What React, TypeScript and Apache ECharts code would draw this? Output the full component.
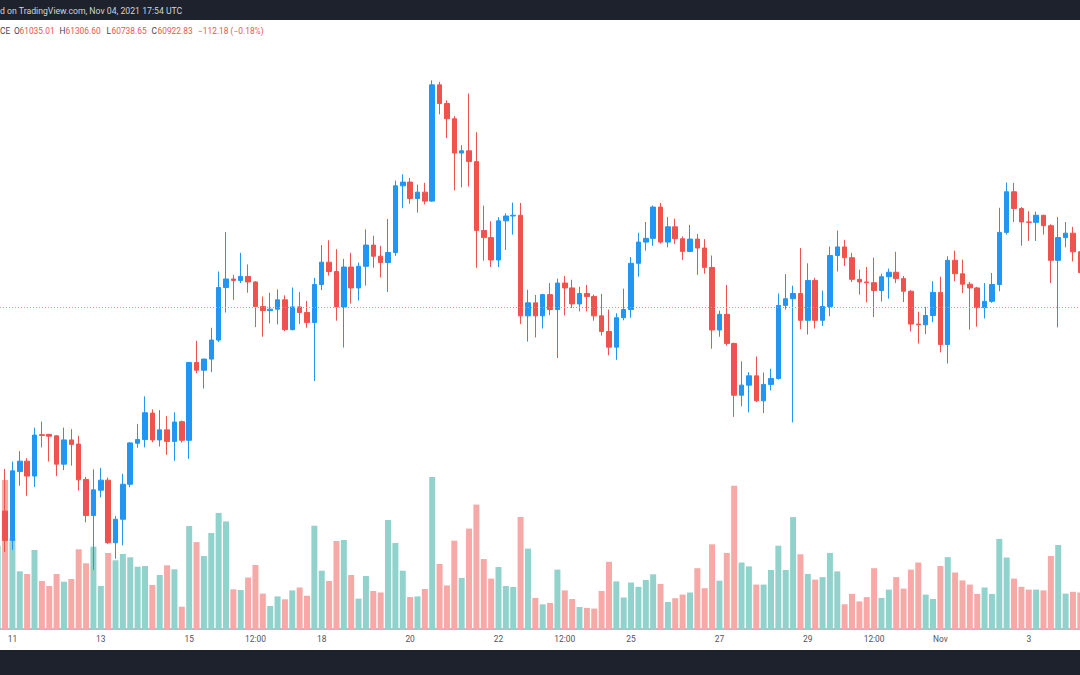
import React, { useEffect, useRef } from "react";
import * as echarts from "echarts";

// 4h candles, BTC/USDT, starting 2021-10-10 16:00 UTC
const START_UTC = Date.UTC(2021, 9, 10, 16, 0);
const STEP_H = 4;

const opens = [
  54990, 55440, 54650, 56500, 56780, 56380, 57490, 57500, 57460, 56700, 57350, 57240, 56290, 55320, 56000, 56270,
  54590, 55220, 56160, 57260, 57360, 58070, 57350, 57620, 57310, 57840, 57340, 59430, 59220, 59520, 60030, 61440,
  61670, 61630, 61740, 61590, 60930, 60820, 60860, 61110, 60310, 60920, 60770, 60500, 61520, 62120, 61870, 60920,
  61990, 61430, 62010, 62580, 62280, 62110, 62380, 64170, 64270, 63830, 64000, 63760, 66880, 66380, 65970, 65050,
  65110, 64820, 62970, 62780, 62180, 63230, 63360, 63380, 60680, 61030, 60680, 61250, 60850, 61560, 61430, 61000,
  61280, 61200, 60680, 60260, 59840, 60630, 60850, 62090, 62660, 62760, 63600, 62660, 63070, 62750, 62410, 62740,
  62500, 61980, 60300, 60720, 59940, 58550, 58820, 59070, 58400, 58840, 59000, 60960, 61140, 61280, 60560, 61630,
  60560, 60930, 62300, 62530, 62240, 61660, 61590, 61570, 61360, 61730, 61850, 61680, 61340, 60460, 60440, 60690,
  61310, 59910, 62170, 61810, 61530, 61430, 60900, 61070, 61520, 62920, 64010, 63560, 63200, 63190, 63380, 63100,
  62170, 62780, 62900, 62400,
];

const closes = [
  55440, 54650, 56520, 56780, 56380, 57480, 57470, 57450, 56700, 57350, 57230, 56280, 55320, 56010, 56270, 54590,
  55220, 56160, 57270, 57360, 58080, 57350, 57620, 57310, 57830, 57340, 59430, 59220, 59520, 60030, 61440, 61670,
  61630, 61740, 61590, 60930, 60820, 60860, 61110, 60310, 60920, 60770, 60500, 61520, 62120, 61870, 60920, 61990,
  61430, 62010, 62580, 62280, 62110, 62380, 64170, 64270, 63830, 64000, 63760, 66880, 66380, 65970, 65050, 65110,
  64820, 62970, 62780, 62180, 63230, 63360, 63380, 60680, 61030, 60680, 61250, 60850, 61560, 61430, 61000, 61280,
  61200, 60680, 60260, 59840, 60630, 60850, 62090, 62660, 62760, 63600, 62660, 63070, 62750, 62410, 62740, 62500,
  61980, 60300, 60720, 59940, 58550, 58820, 59070, 58400, 58840, 59000, 60960, 61140, 61280, 60560, 61630, 60560,
  60930, 62300, 62530, 62240, 61660, 61590, 61570, 61360, 61730, 61850, 61680, 61340, 60460, 60440, 60690, 61310,
  59910, 62170, 61810, 61530, 61430, 60900, 61070, 61520, 62920, 64010, 63560, 63200, 63190, 63380, 63100, 62170,
  62780, 62900, 62400, 61840,
];

const lows = [
  54880, 54340, 54400, 56120, 55850, 56090, 57150, 56770, 56380, 56540, 56660, 55990, 55140, 53860, 55810, 54560,
  54160, 54520, 56080, 57140, 57150, 57290, 57170, 56950, 56790, 57280, 56840, 59140, 58730, 59170, 59980, 60770,
  61110, 61560, 61300, 60380, 60120, 60480, 60450, 60270, 60290, 60460, 60360, 58930, 61370, 61760, 60550, 59830,
  61010, 61090, 61490, 61970, 61710, 61320, 62290, 63570, 63690, 63450, 63670, 63740, 66090, 65450, 64050, 64130,
  64150, 61970, 62160, 61990, 61990, 62450, 62860, 60460, 59990, 60100, 60340, 60700, 59550, 60690, 60890, 60800,
  60800, 60550, 60150, 59620, 59500, 60560, 60630, 61730, 62430, 62560, 62620, 62520, 62610, 62180, 62390, 61780,
  61810, 59800, 60120, 59880, 57970, 58250, 58090, 58370, 58070, 58680, 58970, 60850, 57820, 60320, 60180, 60340,
  60410, 60670, 61870, 62020, 61590, 61250, 61040, 60650, 61060, 61140, 61560, 61050, 60260, 59940, 60190, 60510,
  59700, 59400, 61610, 61290, 60310, 60390, 60610, 61030, 61340, 62860, 63200, 62560, 62690, 62690, 62860, 61560,
  60370, 62520, 62140, 61750,
];

const highs = [
  55580, 56570, 56770, 57050, 56860, 57680, 57840, 57510, 57470, 57680, 57640, 57460, 56360, 56560, 56600, 56340,
  55310, 56440, 57290, 57780, 58520, 58170, 58150, 57990, 58090, 57870, 59440, 60010, 59530, 60360, 61870, 62930,
  61780, 62370, 62060, 61610, 61200, 61300, 61390, 61230, 61440, 61320, 61080, 61700, 62580, 62710, 62470, 62210,
  62370, 62110, 63000, 62830, 62560, 63280, 64310, 64480, 64380, 64200, 64250, 67000, 66960, 66460, 66040, 65260,
  66650, 65610, 63640, 63220, 63330, 63430, 63720, 63710, 61380, 61240, 61270, 61560, 61680, 61750, 61650, 61460,
  61510, 61250, 61270, 60850, 60750, 61410, 62260, 62910, 63200, 63640, 63710, 63330, 63290, 62810, 63120, 62880,
  62740, 62300, 60820, 61510, 59960, 59460, 59170, 59590, 59160, 59260, 61280, 61800, 61490, 62500, 62090, 61700,
  61360, 62540, 62970, 62720, 62370, 61920, 61990, 62240, 61810, 61950, 62400, 61750, 61370, 60790, 60920, 61610,
  61730, 62280, 62430, 62190, 61590, 61460, 61560, 61830, 63580, 64260, 64250, 63600, 63490, 63480, 63390, 63140,
  63330, 63200, 63070, 62450,
];

const volumes = [
  8330, 14900, 9100, 5770, 5500, 7900, 4800, 4300, 5500, 4730, 5000, 7970, 6570, 8230, 4300, 7600,
  6870, 7500, 7170, 6230, 6300, 4400, 5400, 6370, 5970, 2230, 10300, 8690, 7300, 9600, 11610, 10760,
  3970, 3900, 5150, 6400, 3540, 2300, 3260, 2970, 3860, 4150, 3330, 10330, 5830, 4800, 8800, 8900,
  5400, 3040, 5300, 3800, 3650, 10900, 8610, 5830, 3200, 3260, 4000, 15190, 6500, 4360, 8830, 5110,
  10040, 12440, 7000, 5040, 6200, 4300, 4200, 11200, 8040, 3110, 2470, 2610, 5940, 3860, 3000, 2200,
  2110, 2040, 3800, 6720, 4760, 3150, 4650, 4220, 4900, 5470, 4510, 2700, 3080, 3440, 3650, 6080,
  4080, 8470, 4830, 7610, 14330, 6650, 6260, 4440, 4440, 5900, 8330, 5900, 11190, 7470, 5510, 4940,
  5190, 7610, 5760, 2470, 3510, 2760, 3190, 6080, 3110, 3940, 5190, 4040, 5940, 6650, 3440, 3000,
  6300, 7190, 5650, 4860, 4440, 3510, 4150, 3510, 9010, 7150, 5040, 4220, 3940, 3940, 3860, 7300,
  8400, 3540, 3720, 3650,
];

const lastPrice = 60922.83;

const tickKeys = [
  "10-11 00:00", "10-13 00:00", "10-15 00:00", "10-16 12:00", "10-18 00:00", "10-20 00:00", "10-22 00:00",
  "10-23 12:00", "10-25 00:00", "10-27 00:00", "10-29 00:00", "10-30 12:00", "11-01 00:00", "11-03 00:00",
];
const tickTexts = ["11", "13", "15", "12:00", "18", "20", "22", "12:00", "25", "27", "29", "12:00", "Nov", "3"];

const pad = (n: number) => (n < 10 ? "0" + n : "" + n);
const categories = opens.map((_, i) => {
  const d = new Date(START_UTC + i * STEP_H * 3600 * 1000);
  return `${pad(d.getUTCMonth() + 1)}-${pad(d.getUTCDate())} ${pad(d.getUTCHours())}:00`;
});
const tickMap: Record<string, string> = {};
tickKeys.forEach((k, i) => (tickMap[k] = tickTexts[i]));

const UP = "#2196f3";
const DOWN = "#ef5350";
const VOL_UP = "#92d2cc";
const VOL_DOWN = "#f7a9a7";
const FONT = "Roboto, 'Noto Sans', sans-serif";

// the chart canvas is slightly wider than the page: the first and last candles are cut by the page edges
const OFFSET = 6;
const CHART_W = 1089.5;

export default function App() {
  const ref = useRef<HTMLDivElement>(null);
  useEffect(() => {
    document.body.style.margin = "0";
    const chart = echarts.init(ref.current!, null, { renderer: "svg" });
    const candleData = opens.map((o, i) => [o, closes[i], lows[i], highs[i]]);
    const volData = volumes.map((v, i) => ({
      value: v,
      itemStyle: { color: closes[i] >= opens[i] ? VOL_UP : VOL_DOWN },
    }));
    const legendY = 31;
    const legendParts: [number, string, string][] = [
      [0, "CE", "#434651"],
      [14, "O", "#434651"],
      [19.5, "61035.01", DOWN],
      [59.5, "H", "#434651"],
      [65.5, "61306.60", DOWN],
      [106.5, "L", "#434651"],
      [111.5, "60738.65", DOWN],
      [151.5, "C", "#434651"],
      [157.5, "60922.83", DOWN],
      [198, "\u2212112.18 (\u22120.18%)", DOWN],
    ];
    chart.setOption({
      animation: false,
      backgroundColor: "#ffffff",
      grid: { left: 0, right: 0, top: 40, bottom: 46, containLabel: false },
      xAxis: {
        type: "category",
        data: categories,
        boundaryGap: true,
        axisLine: { show: true, lineStyle: { color: "#a3a6af", width: 1.5 } },
        axisTick: { show: false },
        splitLine: { show: false },
        axisLabel: {
          interval: (_idx: number, value: string) => tickMap[value] !== undefined,
          formatter: (value: string) => tickMap[value] ?? "",
          color: "#50535e",
          fontSize: 8.4,
          fontFamily: FONT,
          margin: 6,
        },
      },
      yAxis: [
        { type: "value", min: 52275, max: 68084, show: false, splitLine: { show: false } },
        { type: "value", min: 0, max: 58900, show: false, splitLine: { show: false } },
      ],
      series: [
        {
          type: "bar",
          name: "Volume",
          yAxisIndex: 1,
          data: volData,
          barWidth: 6,
          z: 1,
        },
        {
          type: "candlestick",
          name: "BTCUSDT",
          yAxisIndex: 0,
          data: candleData,
          barWidth: 5,
          z: 3,
          itemStyle: {
            color: UP,
            color0: DOWN,
            borderColor: UP,
            borderColor0: DOWN,
            borderWidth: 1,
          },
          markLine: {
            silent: true,
            symbol: ["none", "none"],
            label: { show: false },
            lineStyle: { color: "#f08a88", type: [1, 2], width: 1 },
            data: [{ yAxis: lastPrice }],
          },
        },
      ],
      graphic: [
        { type: "rect", shape: { x: 0, y: 0, width: CHART_W, height: 20 }, style: { fill: "#1e222d" }, z: 10 },
        { type: "rect", shape: { x: 0, y: 650, width: CHART_W, height: 25 }, style: { fill: "#1e222d" }, z: 10 },
        {
          type: "text",
          x: OFFSET,
          y: 11,
          z: 11,
          style: {
            text: "d on TradingView.com, Nov 04, 2021 17:54 UTC",
            fill: "#d1d4dc",
            fontSize: 8.7,
            fontFamily: FONT,
            verticalAlign: "middle",
          },
        },
        ...legendParts.map(([x, t, c]) => ({
          type: "text",
          x: x + OFFSET,
          y: legendY,
          z: 11,
          style: { text: t, fill: c, fontSize: 8.4, fontFamily: FONT, verticalAlign: "middle" },
        })),
      ],
    });
    return () => chart.dispose();
  }, []);
  return (
    <div
      style={{
        position: "fixed",
        left: 0,
        top: 0,
        width: 1080,
        height: 675,
        overflow: "hidden",
        background: "#fff",
      }}
    >
      <div
        ref={ref}
        style={{ position: "absolute", left: -OFFSET, top: 0, width: CHART_W, height: 675 }}
      />
    </div>
  );
}
